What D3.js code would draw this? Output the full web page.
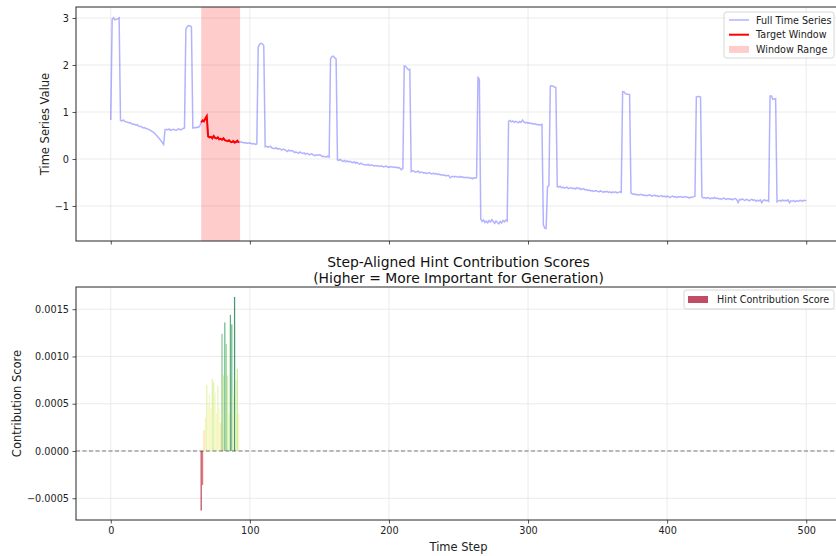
<!DOCTYPE html>
<html>
<head>
<meta charset="utf-8">
<script src="https://cdn.jsdelivr.net/npm/d3@7"></script>
<style>
  body { margin: 0; background: #fff; }
  svg { display: block; font-family: "DejaVu Sans", sans-serif; }
</style>
</head>
<body>
<svg id="chart" width="836" height="556"></svg>
<script>
// time series, stored as [start step, values...] segments
const seriesSegments = [
    [0, [0.83, 2.97, 3.0, 2.96, 2.97, 2.98, 3.0]],
    [7, [0.82, 0.81, 0.83, 0.80, 0.79, 0.78, 0.77, 0.77, 0.75, 0.74,
         0.74, 0.72, 0.73, 0.70, 0.69, 0.69, 0.66, 0.67, 0.65, 0.65,
         0.63, 0.62, 0.60, 0.58, 0.56, 0.53, 0.50, 0.46, 0.43, 0.39,
         0.35, 0.31]],
    [39, [0.62, 0.63, 0.62, 0.64, 0.61, 0.62, 0.63, 0.62, 0.61, 0.63,
          0.64, 0.62, 0.63, 0.65, 0.66]],
    [54, [2.76, 2.82, 2.84, 2.83, 2.81]],
    [59, [0.66, 0.67, 0.66, 0.68, 0.67, 0.70]],
    [65, [0.78, 0.82, 0.80, 0.86, 0.91, 0.48, 0.46, 0.47, 0.44, 0.49,
          0.45, 0.44, 0.46, 0.42, 0.43, 0.41, 0.44, 0.40, 0.39, 0.38,
          0.40, 0.37, 0.36, 0.38, 0.35, 0.36, 0.39, 0.35]],
    [93, [0.36, 0.36, 0.35, 0.34, 0.35, 0.33, 0.34, 0.34, 0.33, 0.32,
          0.33, 0.31, 0.32]],
    [106, [2.38, 2.44, 2.46, 2.45, 2.41]],
    [111, [0.26, 0.27, 0.25, 0.26, 0.27, 0.23, 0.23, 0.22, 0.24, 0.21,
           0.22, 0.21, 0.19, 0.21, 0.20, 0.18, 0.16, 0.19, 0.17, 0.18,
           0.17, 0.14, 0.15, 0.14, 0.12, 0.15, 0.13, 0.12, 0.13, 0.10,
           0.12, 0.11, 0.09, 0.11, 0.10, 0.08, 0.07, 0.09, 0.08, 0.09,
           0.08, 0.05, 0.06, 0.05, 0.04, 0.06, 0.04]],
    [158, [2.13, 2.18, 2.19, 2.15, 2.13]],
    [163, [-0.02, -0.03, -0.01, -0.04, -0.05, -0.03, -0.06, -0.04, -0.06, -0.05,
           -0.07, -0.08, -0.06, -0.09, -0.07, -0.10, -0.11, -0.09, -0.11, -0.12,
           -0.12, -0.13, -0.11, -0.14, -0.13, -0.13, -0.15, -0.14, -0.15, -0.14,
           -0.16, -0.15, -0.15, -0.17, -0.16, -0.15, -0.17, -0.18, -0.16, -0.17,
           -0.17, -0.18, -0.17, -0.19, -0.18, -0.20, -0.23, -0.20]],
    [211, [1.98, 1.97, 1.93, 1.90, 1.91]],
    [216, [-0.27, -0.25, -0.26, -0.28, -0.27, -0.26, -0.29, -0.28, -0.28, -0.30,
           -0.29, -0.31, -0.30, -0.29, -0.31, -0.32, -0.30, -0.32, -0.31, -0.33,
           -0.32, -0.34, -0.33, -0.35, -0.34, -0.36, -0.35, -0.35, -0.40, -0.38,
           -0.37, -0.38, -0.37, -0.38, -0.39, -0.37, -0.39, -0.38, -0.40, -0.39,
           -0.40, -0.39, -0.41, -0.40, -0.42, -0.40, -0.41, -0.40]],
    [264, [1.75, 1.69]],
    [266, [-1.28, -1.33, -1.30, -1.35, -1.32, -1.36, -1.31, -1.34, -1.29, -1.33,
           -1.37, -1.32, -1.35, -1.38, -1.33, -1.36, -1.31, -1.34, -1.30, -1.32]],
    [286, [0.80, 0.82, 0.79, 0.81, 0.78, 0.80, 0.79, 0.77, 0.80, 0.78,
           0.83, 0.79, 0.77, 0.78, 0.76, 0.77, 0.75, 0.76, 0.74, 0.75,
           0.73, 0.74, 0.72, 0.73, 0.74]],
    [311, [-1.40, -1.47, -1.48, -0.59, -0.57]],
    [316, [1.55, 1.56, 1.55, 1.53, 1.52]],
    [321, [-0.59, -0.60, -0.58, -0.61, -0.60, -0.62, -0.61, -0.60, -0.63, -0.62,
           -0.61, -0.63, -0.62, -0.64, -0.61, -0.63, -0.62, -0.65, -0.64, -0.63,
           -0.66, -0.65, -0.67, -0.66, -0.68, -0.67, -0.69, -0.68, -0.67, -0.69,
           -0.70, -0.68, -0.69, -0.71, -0.69, -0.70, -0.69, -0.71, -0.70, -0.72,
           -0.70, -0.71, -0.70, -0.72, -0.71, -0.70, -0.71]],
    [368, [1.43, 1.43, 1.39, 1.38, 1.38, 1.37]],
    [374, [-0.72, -0.75, -0.74, -0.76, -0.75, -0.77, -0.76, -0.75, -0.77, -0.76,
           -0.78, -0.77, -0.78, -0.76, -0.77, -0.79, -0.78, -0.77, -0.79, -0.78,
           -0.80, -0.79, -0.78, -0.80, -0.79, -0.81, -0.79, -0.80, -0.82, -0.80,
           -0.79, -0.81, -0.80, -0.82, -0.80, -0.81, -0.80, -0.82, -0.81, -0.80,
           -0.82, -0.81, -0.83, -0.81, -0.82, -0.80, -0.79]],
    [421, [1.32, 1.33, 1.33, 1.32]],
    [425, [-0.81, -0.83, -0.82, -0.84, -0.82, -0.83, -0.85, -0.83, -0.84, -0.82,
           -0.84, -0.83, -0.85, -0.84, -0.86, -0.84, -0.83, -0.86, -0.85, -0.84,
           -0.86, -0.85, -0.87, -0.85, -0.84, -0.86, -0.93, -0.86, -0.87, -0.85,
           -0.87, -0.88, -0.86, -0.87, -0.89, -0.87, -0.86, -0.88, -0.87, -0.90,
           -0.88, -0.89, -0.87, -0.93, -0.88, -0.87, -0.89, -0.88, -0.90]],
    [474, [1.34, 1.34, 1.27, 1.27, 1.28]],
    [479, [-0.91, -0.89, -0.88, -0.90, -0.87, -0.89, -0.88, -0.89, -0.87, -0.93,
           -0.89, -0.90, -0.88, -0.91, -0.89, -0.90, -0.89, -0.88, -0.90, -0.88,
           -0.89, -0.88]]
];

const windowStart = 65;
const windowEnd = 92;

// hint contribution score per step inside the window (65..92)
const hintSteps = d3.range(65, 93);
const hintScores = [
    -0.00063, -0.00036, 0.00022, 0.00035, 0.00070, 0.00050, 0.00060, 0.00045, 0.00076, 0.00073,
    0.00062, 0.00040, 0.00069, 0.00045, 0.00030, 0.00124, 0.00080, 0.00136, 0.00113, 0.00080,
    0.00040, 0.00144, 0.00134, 0.00060, 0.00163, 0.00075, 0.00087, 0.00040
];

const xTicks = [0, 100, 200, 300, 400, 500];
const topYTicks = [-1, 0, 1, 2, 3];
const bottomYTicks = [-0.0005, 0, 0.0005, 0.0010, 0.0015];

const series = [];
for (const [start, vals] of seriesSegments) {
    vals.forEach((v, i) => series.push({ t: start + i, v: v }));
}
const windowSeries = series.filter(d => d.t >= windowStart && d.t <= windowEnd);

const svg = d3.select("#chart");
const left = 76, right = 841;

const x = d3.scaleLinear().domain([-25, 525]).range([left, right]);
const yTop = d3.scaleLinear().domain([-1.745, 3.234]).range([241, 7]);
const yBot = d3.scaleLinear().domain([-0.00073, 0.001735]).range([520, 287]);

const gridColor = "#e6e6e6";
const frameColor = "#262626";
const tickFont = "9.7px";

function drawGrid(g, y, yTicks, y0, y1) {
    g.append("g").selectAll("line").data(xTicks).enter().append("line")
        .attr("x1", d => x(d)).attr("x2", d => x(d))
        .attr("y1", y0).attr("y2", y1)
        .attr("stroke", gridColor).attr("stroke-width", 0.8);
    g.append("g").selectAll("line").data(yTicks).enter().append("line")
        .attr("x1", left).attr("x2", right)
        .attr("y1", d => y(d)).attr("y2", d => y(d))
        .attr("stroke", gridColor).attr("stroke-width", 0.8);
}

function drawAxes(g, y, yTicks, fmt, y0, y1, showXLabels) {
    const xAxis = d3.axisBottom(x).tickValues(xTicks).tickSize(3.5).tickPadding(3.5)
        .tickFormat(showXLabels ? d3.format("d") : "");
    const yAxis = d3.axisLeft(y).tickValues(yTicks).tickSize(3.5).tickPadding(3.5)
        .tickFormat(fmt);
    const gx = g.append("g").attr("transform", `translate(0,${y1})`).call(xAxis);
    const gy = g.append("g").attr("transform", `translate(${left},0)`).call(yAxis);
    for (const a of [gx, gy]) {
        a.select(".domain").remove();
        a.selectAll("line").attr("stroke", frameColor).attr("stroke-width", 0.8);
        a.selectAll("text").attr("fill", "#222").style("font-size", tickFont)
            .style("font-family", "DejaVu Sans");
    }
    g.append("rect")
        .attr("x", left).attr("y", y0)
        .attr("width", right - left).attr("height", y1 - y0)
        .attr("fill", "none").attr("stroke", frameColor).attr("stroke-width", 1);
}

function minusFmt(f) {
    return d => f(d).replace("-", "\u2212");
}

// ---------- top panel ----------
const gTop = svg.append("g");
drawGrid(gTop, yTop, topYTicks, 7, 241);

gTop.append("rect")
    .attr("x", x(windowStart)).attr("y", 7)
    .attr("width", x(windowEnd + 1) - x(windowStart)).attr("height", 241 - 7)
    .attr("fill", "#ff0000").attr("fill-opacity", 0.2);

const lineTop = d3.line().x(d => x(d.t)).y(d => yTop(d.v));

gTop.append("path")
    .datum(series)
    .attr("d", lineTop)
    .attr("fill", "none")
    .attr("stroke", "#0000ff").attr("stroke-opacity", 0.3)
    .attr("stroke-width", 1.5);

gTop.append("path")
    .datum(windowSeries)
    .attr("d", lineTop)
    .attr("fill", "none")
    .attr("stroke", "#ff0000")
    .attr("stroke-width", 2);

drawAxes(gTop, yTop, topYTicks, minusFmt(d3.format("d")), 7, 241, false);

gTop.append("text")
    .attr("transform", `translate(49,${(7 + 241) / 2}) rotate(-90)`)
    .attr("text-anchor", "middle")
    .style("font-size", "11.5px")
    .attr("fill", "#222")
    .text("Time Series Value");

// legend
const lg = gTop.append("g").attr("transform", "translate(724,12)");
lg.append("rect").attr("width", 110).attr("height", 46).attr("rx", 2.5)
    .attr("fill", "#fff").attr("fill-opacity", 0.8)
    .attr("stroke", "#cccccc").attr("stroke-width", 0.8);
const legendItems = [
    { label: "Full Time Series", kind: "line", color: "#0000ff", opacity: 0.3, w: 1.5 },
    { label: "Target Window", kind: "line", color: "#ff0000", opacity: 1, w: 2 },
    { label: "Window Range", kind: "patch", color: "#ff0000", opacity: 0.2 }
];
legendItems.forEach((it, i) => {
    const yy = 8 + i * 14.7;
    if (it.kind === "line") {
        lg.append("line").attr("x1", 5).attr("x2", 25).attr("y1", yy).attr("y2", yy)
            .attr("stroke", it.color).attr("stroke-opacity", it.opacity).attr("stroke-width", it.w);
    } else {
        lg.append("rect").attr("x", 5).attr("y", yy - 3.5).attr("width", 20).attr("height", 7)
            .attr("fill", it.color).attr("fill-opacity", it.opacity);
    }
    lg.append("text").attr("x", 32).attr("y", yy + 3.5)
        .style("font-size", "9.6px").attr("fill", "#222").text(it.label);
});

// ---------- bottom panel ----------
const gBot = svg.append("g");
drawGrid(gBot, yBot, bottomYTicks, 287, 520);

const sMin = d3.min(hintScores), sMax = d3.max(hintScores);
const color = d3.scaleSequential(d3.interpolateRdYlGn).domain([sMin, sMax]);
const bars = hintSteps.map((t, i) => ({ t: t, v: hintScores[i] }));
const barW = x(0.9) - x(0);

gBot.append("g").selectAll("rect").data(bars).enter().append("rect")
    .attr("x", d => x(d.t) - barW / 2)
    .attr("width", barW)
    .attr("y", d => yBot(Math.max(0, d.v)))
    .attr("height", d => Math.abs(yBot(d.v) - yBot(0)))
    .attr("fill", d => color(d.v))
    .attr("fill-opacity", 0.7);

gBot.append("line")
    .attr("x1", left).attr("x2", right)
    .attr("y1", yBot(0)).attr("y2", yBot(0))
    .attr("stroke", "#000").attr("stroke-opacity", 0.5)
    .attr("stroke-width", 1).attr("stroke-dasharray", "4,2.5");

drawAxes(gBot, yBot, bottomYTicks, minusFmt(d3.format(".4f")), 287, 520, true);

gBot.append("text")
    .attr("transform", `translate(21,${(287 + 520) / 2}) rotate(-90)`)
    .attr("text-anchor", "middle")
    .style("font-size", "11.5px")
    .attr("fill", "#222")
    .text("Contribution Score");

gBot.append("text")
    .attr("x", (left + right) / 2).attr("y", 551)
    .attr("text-anchor", "middle")
    .style("font-size", "11.5px")
    .attr("fill", "#222")
    .text("Time Step");

const title = gBot.append("text")
    .attr("x", (left + right) / 2)
    .attr("text-anchor", "middle")
    .style("font-size", "13.9px")
    .attr("fill", "#111");
title.append("tspan").attr("x", (left + right) / 2).attr("y", 267)
    .text("Step-Aligned Hint Contribution Scores");
title.append("tspan").attr("x", (left + right) / 2).attr("y", 283)
    .text("(Higher = More Important for Generation)");

const lb = gBot.append("g").attr("transform", "translate(684,290)");
lb.append("rect").attr("width", 150).attr("height", 19).attr("rx", 2.5)
    .attr("fill", "#fff").attr("fill-opacity", 0.8)
    .attr("stroke", "#cccccc").attr("stroke-width", 0.8);
lb.append("rect").attr("x", 4).attr("y", 6).attr("width", 20).attr("height", 7)
    .attr("fill", color(hintScores[0])).attr("fill-opacity", 0.7);
lb.append("text").attr("x", 33).attr("y", 13)
    .style("font-size", "9.6px").attr("fill", "#222").text("Hint Contribution Score");
</script>
</body>
</html>
